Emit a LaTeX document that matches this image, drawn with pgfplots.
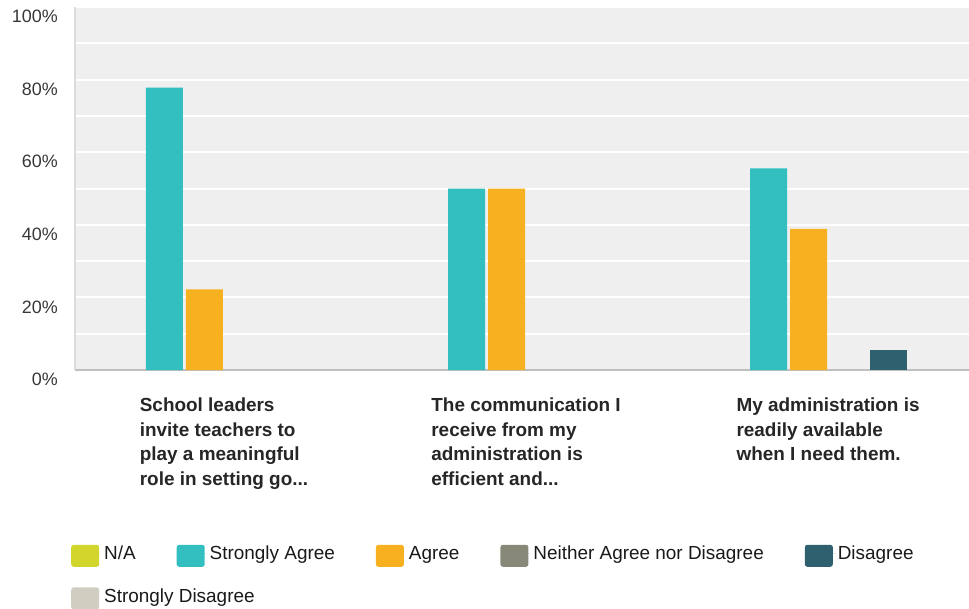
\documentclass[border=0pt]{standalone}
\usepackage{pgfplots}
\pgfplotsset{compat=1.18}
\usepackage{fontspec}
\setmainfont{Liberation Sans}
\definecolor{cNA}{HTML}{D2D52B}
\definecolor{cSA}{HTML}{33BEBF}
\definecolor{cAg}{HTML}{F7B01F}
\definecolor{cNe}{HTML}{888878}
\definecolor{cDi}{HTML}{2E606F}
\definecolor{cSD}{HTML}{D0CEC0}
\definecolor{bgc}{HTML}{EFEFEF}
\newcommand{\tdots}{...}
\begin{document}
\begin{tikzpicture}
\useasboundingbox (-75bp,-239bp) rectangle (894bp,370bp);
\begin{axis}[
  at={(0,0)}, anchor=south west,
  scale only axis, width=894bp, height=363bp,
  xmin=-0.495, xmax=2.465, ymin=0, ymax=100,
  axis background/.style={fill=bgc},
  axis lines=left, axis line style={-},
  x axis line style={draw=black!25, line width=1.5bp},
  y axis line style={draw=black!14, line width=2.5bp},
  ymajorgrids, yminorgrids,
  ytick={0,20,40,60,80,100}, minor ytick={10,30,50,70,90},
  major grid style={white, line width=2bp},
  minor grid style={white, line width=2bp},
  major tick length=0pt, minor tick length=0pt,
  yticklabels={0\%,20\%,40\%,60\%,80\%,100\%},
  yticklabel style={font=\fontsize{18}{20}\selectfont, text=black!78, inner sep=0pt, anchor=east, xshift=-17bp, yshift=-9.5bp},
  xtick={0,1,2},
  xticklabels={{School leaders\\invite teachers to\\play a meaningful\\role in setting go\tdots},
               {The communication I\\receive from my\\administration is\\efficient and\tdots},
               {My administration is\\readily available\\when I need them.}},
  xticklabel style={font=\fontsize{19}{24.5}\selectfont\bfseries, align=left, text=black!85, anchor=north, inner sep=0pt, yshift=-28bp, xshift=-0.5bp},
  ybar, bar width=0.1225,
  legend columns=5,
  legend cell align=left,
  legend image code/.code={\fill[#1, draw=none, rounded corners=2.5bp] (0bp,-13bp) rectangle (28bp,9bp); \path (0bp,0bp) -- (31bp,0bp);},
  legend style={at={(axis description cs:-0.00447,-0.4793)}, anchor=north west, draw=none, fill=none, inner sep=0pt,
    font=\fontsize{19}{21}\selectfont, text=black!90,
    /tikz/every even column/.append style={column sep=39bp}, row sep=20bp},
]
\addlegendimage{fill=cNA, draw=none}
\addplot[fill=cSA, draw=none, bar shift=-0.19875] coordinates {(0,77.78) (1,50) (2,55.56)};
\addplot[fill=cAg, draw=none, bar shift=-0.06625] coordinates {(0,22.22) (1,50) (2,38.89)};
\addlegendimage{fill=cNe, draw=none}
\addplot[fill=cDi, draw=none, bar shift=0.19875] coordinates {(2,5.56)};
\addlegendimage{fill=cSD, draw=none}
\legend{N/A, Strongly Agree, Agree, Neither Agree nor Disagree, Disagree, \rlap{Strongly Disagree}}
\end{axis}
\end{tikzpicture}
\end{document}
